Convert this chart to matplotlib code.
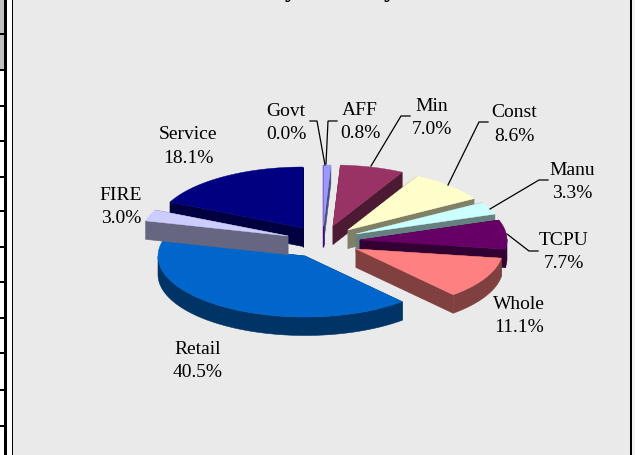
import numpy as np
import matplotlib
matplotlib.use("Agg")
import matplotlib.pyplot as plt
from matplotlib.patches import Polygon, Rectangle

# data
categories = ["Govt", "AFF", "Min", "Const", "Manu", "TCPU", "Whole", "Retail", "FIRE", "Service"]
shares = [0.0, 0.8, 7.0, 8.6, 3.3, 7.7, 11.1, 40.5, 3.0, 18.1]

# style
top_colors = ["#660099", "#9999FF", "#993366", "#FFFFCC", "#CCFFFF", "#660066", "#FF8080", "#0066CC", "#CCCCFF", "#000080"]
wall_colors = ["#4B0082", "#4D4D80", "#4D1A33", "#808066", "#668080", "#330033", "#804040", "#003366", "#666680", "#000040"]
centers = {"Govt": (323, 227), "AFF": (323.5, 227), "Min": (333, 227), "Const": (348, 231), "Manu": (356, 235),
           "TCPU": (360, 241), "Whole": (356, 250), "Retail": (305, 257), "FIRE": (288, 237), "Service": (303, 229)}
label_pos = {"Govt": (286, 123), "AFF": (360, 122), "Min": (432, 118), "Const": (514, 124.5), "Manu": (572, 182),
             "TCPU": (564, 252), "Whole": (519, 316), "Retail": (198, 361), "FIRE": (121, 207), "Service": (188, 146.5)}
leaders = {"Govt": [(310, 122), (317, 122), (325, 166)], "AFF": [(337, 122), (328, 122), (326, 165)],
           "Min": [(410, 117), (401, 117), (371, 167)], "Const": [(488, 123), (479, 123), (448, 186)],
           "Manu": [(548, 181), (539, 181), (490, 210)], "TCPU": [(538, 252), (529, 252), (507, 235)]}
RX, RY, DEPTH = 147, 61, 18.5
FONT = "Liberation Serif"

fig = plt.figure(figsize=(6.35, 4.56), dpi=100, facecolor="white")
ax = fig.add_axes([0, 0, 1, 1])
ax.set_xlim(0, 635)
ax.set_ylim(456, 0)
ax.axis("off")

# surrounding sheet and table edge
ax.add_patch(Rectangle((13, 0), 618, 456, fc="#EAEAEA", ec="none", zorder=0))
ax.add_patch(Rectangle((0, 0), 4, 71, fc="#C0C0C0", ec="none", zorder=0))
ax.add_patch(Rectangle((631, 0), 4, 456, fc="#F2F2F2", ec="none", zorder=0))
ax.add_patch(Rectangle((4, 0), 3, 456, fc="black", ec="none", zorder=1))
ax.add_patch(Rectangle((12, 0), 1, 456, fc="black", ec="none", zorder=1))
ax.add_patch(Rectangle((630, 0), 1.5, 456, fc="black", ec="none", zorder=1))
for r in [35, 71, 107, 142, 178, 212, 248, 283, 319, 354, 391, 427]:
    ax.add_patch(Rectangle((0, r - 1), 5, 2.4, fc="black", ec="none", zorder=1))


def rim(c, t):
    return np.column_stack([c[0] + RX * np.sin(t), c[1] - RY * np.cos(t)])


def draw(i, start, end, z):
    name = categories[i]
    c = centers[name]
    down = np.array([0, DEPTH])
    a0, a1 = np.radians(start), np.radians(end)
    ts = np.linspace(a0, a1, 80)
    arc = rim(c, ts)
    wall, color = wall_colors[i], top_colors[i]
    for t in (a0, a1):
        p = rim(c, np.array([t]))[0]
        q = np.array(c, float)
        ax.add_patch(Polygon([q, p, p + down, q + down], fc=wall, ec=wall, lw=0.4, zorder=z))
    front = ts[np.cos(ts) < 0.02]
    if len(front) > 1:
        pts = rim(c, front)
        ax.add_patch(Polygon(np.vstack([pts, (pts + down)[::-1]]), fc=wall, ec=wall, lw=0.4, zorder=z))
    ax.add_patch(Polygon(np.vstack([[c], arc]), fc=color, ec=color, lw=0.3, zorder=z + 0.5))


edges = np.concatenate([[0], np.cumsum(shares)]) * 3.6
order = ["Govt", "AFF", "Min", "Const", "Manu", "TCPU", "Whole", "Service", "Retail", "FIRE"]
for z, name in enumerate(order):
    i = categories.index(name)
    draw(i, edges[i], min(edges[i + 1], 360), 2 + z)
# the empty Govt slice only shows its cut edge
c = centers["Govt"]
ax.plot([c[0], c[0]], [c[1], c[1] + DEPTH + 2], color=wall_colors[0], lw=1.0, zorder=3, solid_capstyle="butt")

for name, pts in leaders.items():
    xs, ys = zip(*pts)
    ax.plot(xs, ys, color="black", lw=0.9, zorder=20, solid_joinstyle="miter")

for name, share in zip(categories, shares):
    x, y = label_pos[name]
    ax.text(x, y, f"{name}\n{share:.1f}%", ha="center", va="center", family=FONT, fontsize=14,
            linespacing=1.5, color="black", zorder=21)

# title, cut off by the top of the picture
ax.text(334, -2.8, "by Industry", ha="center", va="baseline", family=FONT, fontweight="bold",
        fontsize=18, color="black", zorder=21, clip_on=True)

fig.savefig("out.png", dpi=100, facecolor="white")
